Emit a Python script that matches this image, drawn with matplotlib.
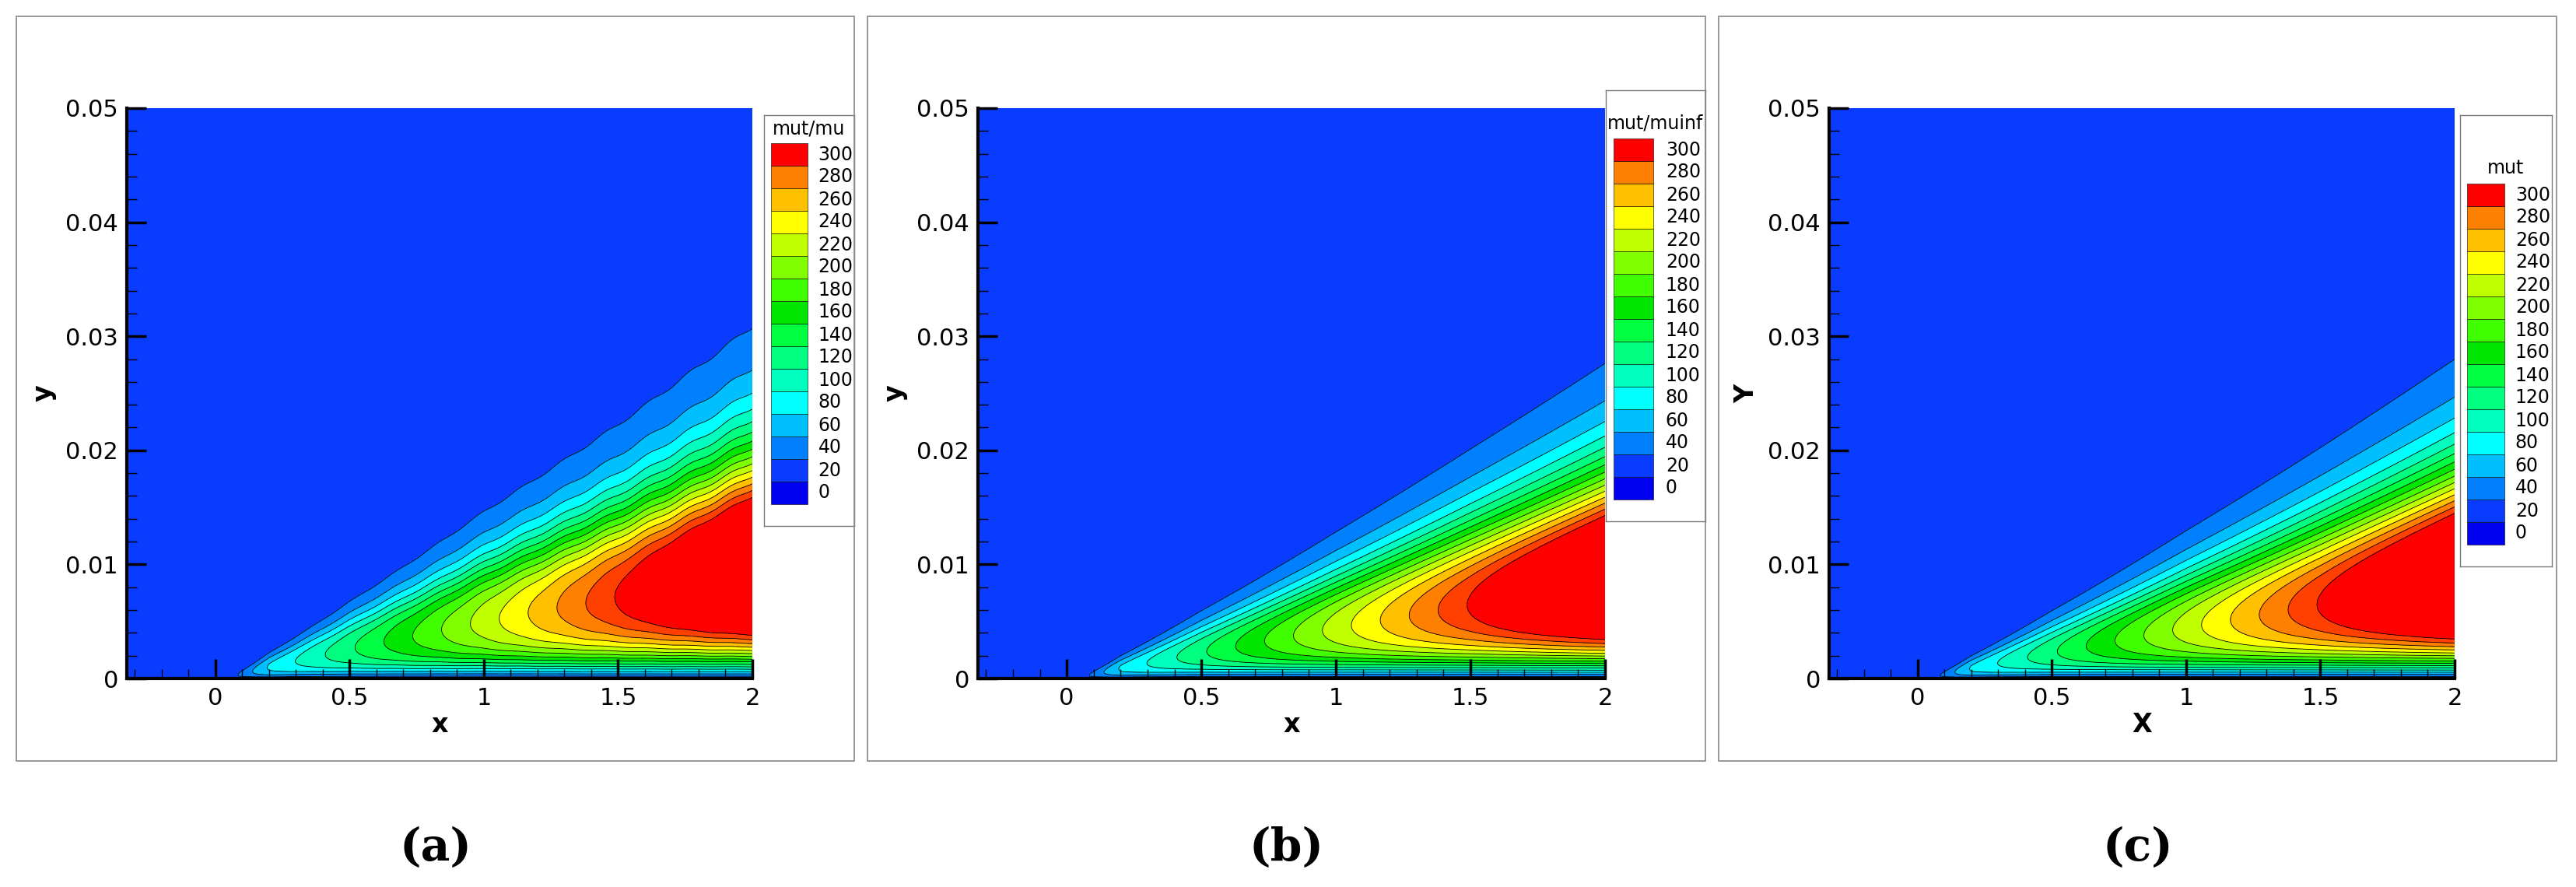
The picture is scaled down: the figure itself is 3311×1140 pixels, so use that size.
import numpy as np
import matplotlib.pyplot as plt
from matplotlib.colors import ListedColormap, BoundaryNorm
from matplotlib.ticker import MultipleLocator
from matplotlib.patches import Rectangle

# legend levels and colours (bottom -> top)
levels = [0, 20, 40, 60, 80, 100, 120, 140, 160, 180, 200, 220, 240, 260, 280, 300]
colors = ['#0000f0', '#0a3cff', '#0080ff', '#00bfff', '#00ffff', '#00ffbf', '#00ff80',
          '#00ff40', '#00e600', '#40ff00', '#80ff00', '#c0ff00', '#ffff00', '#ffc000',
          '#ff8000', '#ff4000', '#ff0000']

# stations along the plate
x_st = [0.03, 0.2, 0.5, 1.0, 1.5, 2.0]
amp_st = [0, 60, 112, 202, 292, 388]
delta_a = [0.0, 0.0026, 0.0068, 0.0132, 0.0188, 0.0248]
delta_b = [0.0, 0.0023, 0.0060, 0.0116, 0.0170, 0.0222]
delta_c = [0.0, 0.0023, 0.0060, 0.0117, 0.0171, 0.0225]

titles = ['mut/mu', 'mut/muinf', 'mut']
xlabels = ['x', 'x', 'X']
ylabels = ['y', 'y', 'Y']
tags = ['a', 'b', 'c']

W, H = 3312, 1140
fig = plt.figure(figsize=(W / 100, H / 100), dpi=100)

def field(delta_st, wavy):
    x = np.linspace(-0.33, 2.0, 700)
    y = np.linspace(0, 0.05, 500)
    X, Y = np.meshgrid(x, y)
    d = np.interp(X, x_st, delta_st)
    if wavy:
        d = d * (1 + 0.006 * np.sin(X * 40))
    A = np.interp(X, x_st, amp_st)
    eta = np.where(d > 0, Y / np.maximum(d, 1e-9), 10)
    f = np.tanh(eta / 0.17) / (1 + 5.5 * eta ** 6)
    f = f / 0.93
    return X, Y, A * f + 0.5

panel_boxes = [(21, 1098), (1115, 2192), (2209, 3286)]
axes_x = [(163, 967), (1257, 2063), (2351, 3155)]
leg_boxes = [(982, 1098, 148, 676), (2064, 2192, 116, 670), (3162, 3280, 148, 728)]
deltas = [delta_a, delta_b, delta_c]

cmap = ListedColormap(colors[1:])
bounds = levels + [1e6]
norm = BoundaryNorm(bounds, cmap.N)

for i in range(3):
    # outer frame
    x0, x1 = panel_boxes[i]
    fig.add_artist(Rectangle((x0 / W, 1 - 978 / H), (x1 - x0) / W, (978 - 21) / H,
                             transform=fig.transFigure, fill=False, ec='#888888', lw=1.2))
    ax0, ax1 = axes_x[i]
    ax = fig.add_axes([ax0 / W, 1 - 872 / H, (ax1 - ax0) / W, (872 - 139) / H])
    X, Y, Z = field(deltas[i], i == 0)
    ax.contourf(X, Y, Z, levels=bounds, cmap=cmap, norm=norm)
    ax.contour(X, Y, Z, levels=levels[1:], colors='k', linewidths=0.6)
    ax.set_xlim(-0.33, 2)
    ax.set_ylim(0, 0.05)
    for s in ['top', 'right']:
        ax.spines[s].set_visible(False)
    for s in ['left', 'bottom']:
        ax.spines[s].set_linewidth(3)
    ax.set_xticks([0, 0.5, 1, 1.5, 2])
    ax.set_xticklabels(['0', '0.5', '1', '1.5', '2'])
    ax.set_yticks([0, 0.01, 0.02, 0.03, 0.04, 0.05])
    ax.set_yticklabels(['0', '0.01', '0.02', '0.03', '0.04', '0.05'])
    ax.xaxis.set_minor_locator(MultipleLocator(0.1))
    ax.yaxis.set_minor_locator(MultipleLocator(0.002))
    ax.tick_params(which='major', direction='in', length=18, width=2.5, labelsize=22, pad=8)
    ax.tick_params(which='minor', direction='in', length=9, width=1)
    ax.set_xlabel(xlabels[i], fontsize=24, fontweight='bold', labelpad=2)
    ax.set_ylabel(ylabels[i], fontsize=24, fontweight='bold', labelpad=8)

    # legend
    lx0, lx1, ly0, ly1 = leg_boxes[i]
    lax = fig.add_axes([lx0 / W, 1 - ly1 / H, (lx1 - lx0) / W, (ly1 - ly0) / H])
    lax.set_xlim(0, 1)
    lax.set_ylim(0, 1)
    lax.set_xticks([])
    lax.set_yticks([])
    for s in lax.spines.values():
        s.set_edgecolor('#777777')
        s.set_linewidth(1)
    hpx = ly1 - ly0
    sw = 29 / hpx
    base = 28 / hpx
    for k, lv in enumerate(levels):
        yb = base + k * sw
        lax.add_patch(Rectangle((0.08, yb), 0.40, sw, fc=colors[k if k < 15 else 16],
                                ec='k', lw=0.4))
        lax.text(0.6, yb + sw / 2, str(lv), fontsize=17, va='center', ha='left')
    lax.text(0.5, base + 16 * sw + 0.035, titles[i], fontsize=17, ha='center', va='center')

    fig.text(((x0 + x1) / 2) / W, 1 - 1090 / H, '(' + tags[i] + ')', fontsize=42,
             ha='center', va='center', family='DejaVu Serif', fontweight='bold')

fig.savefig('out.png', dpi=100)
